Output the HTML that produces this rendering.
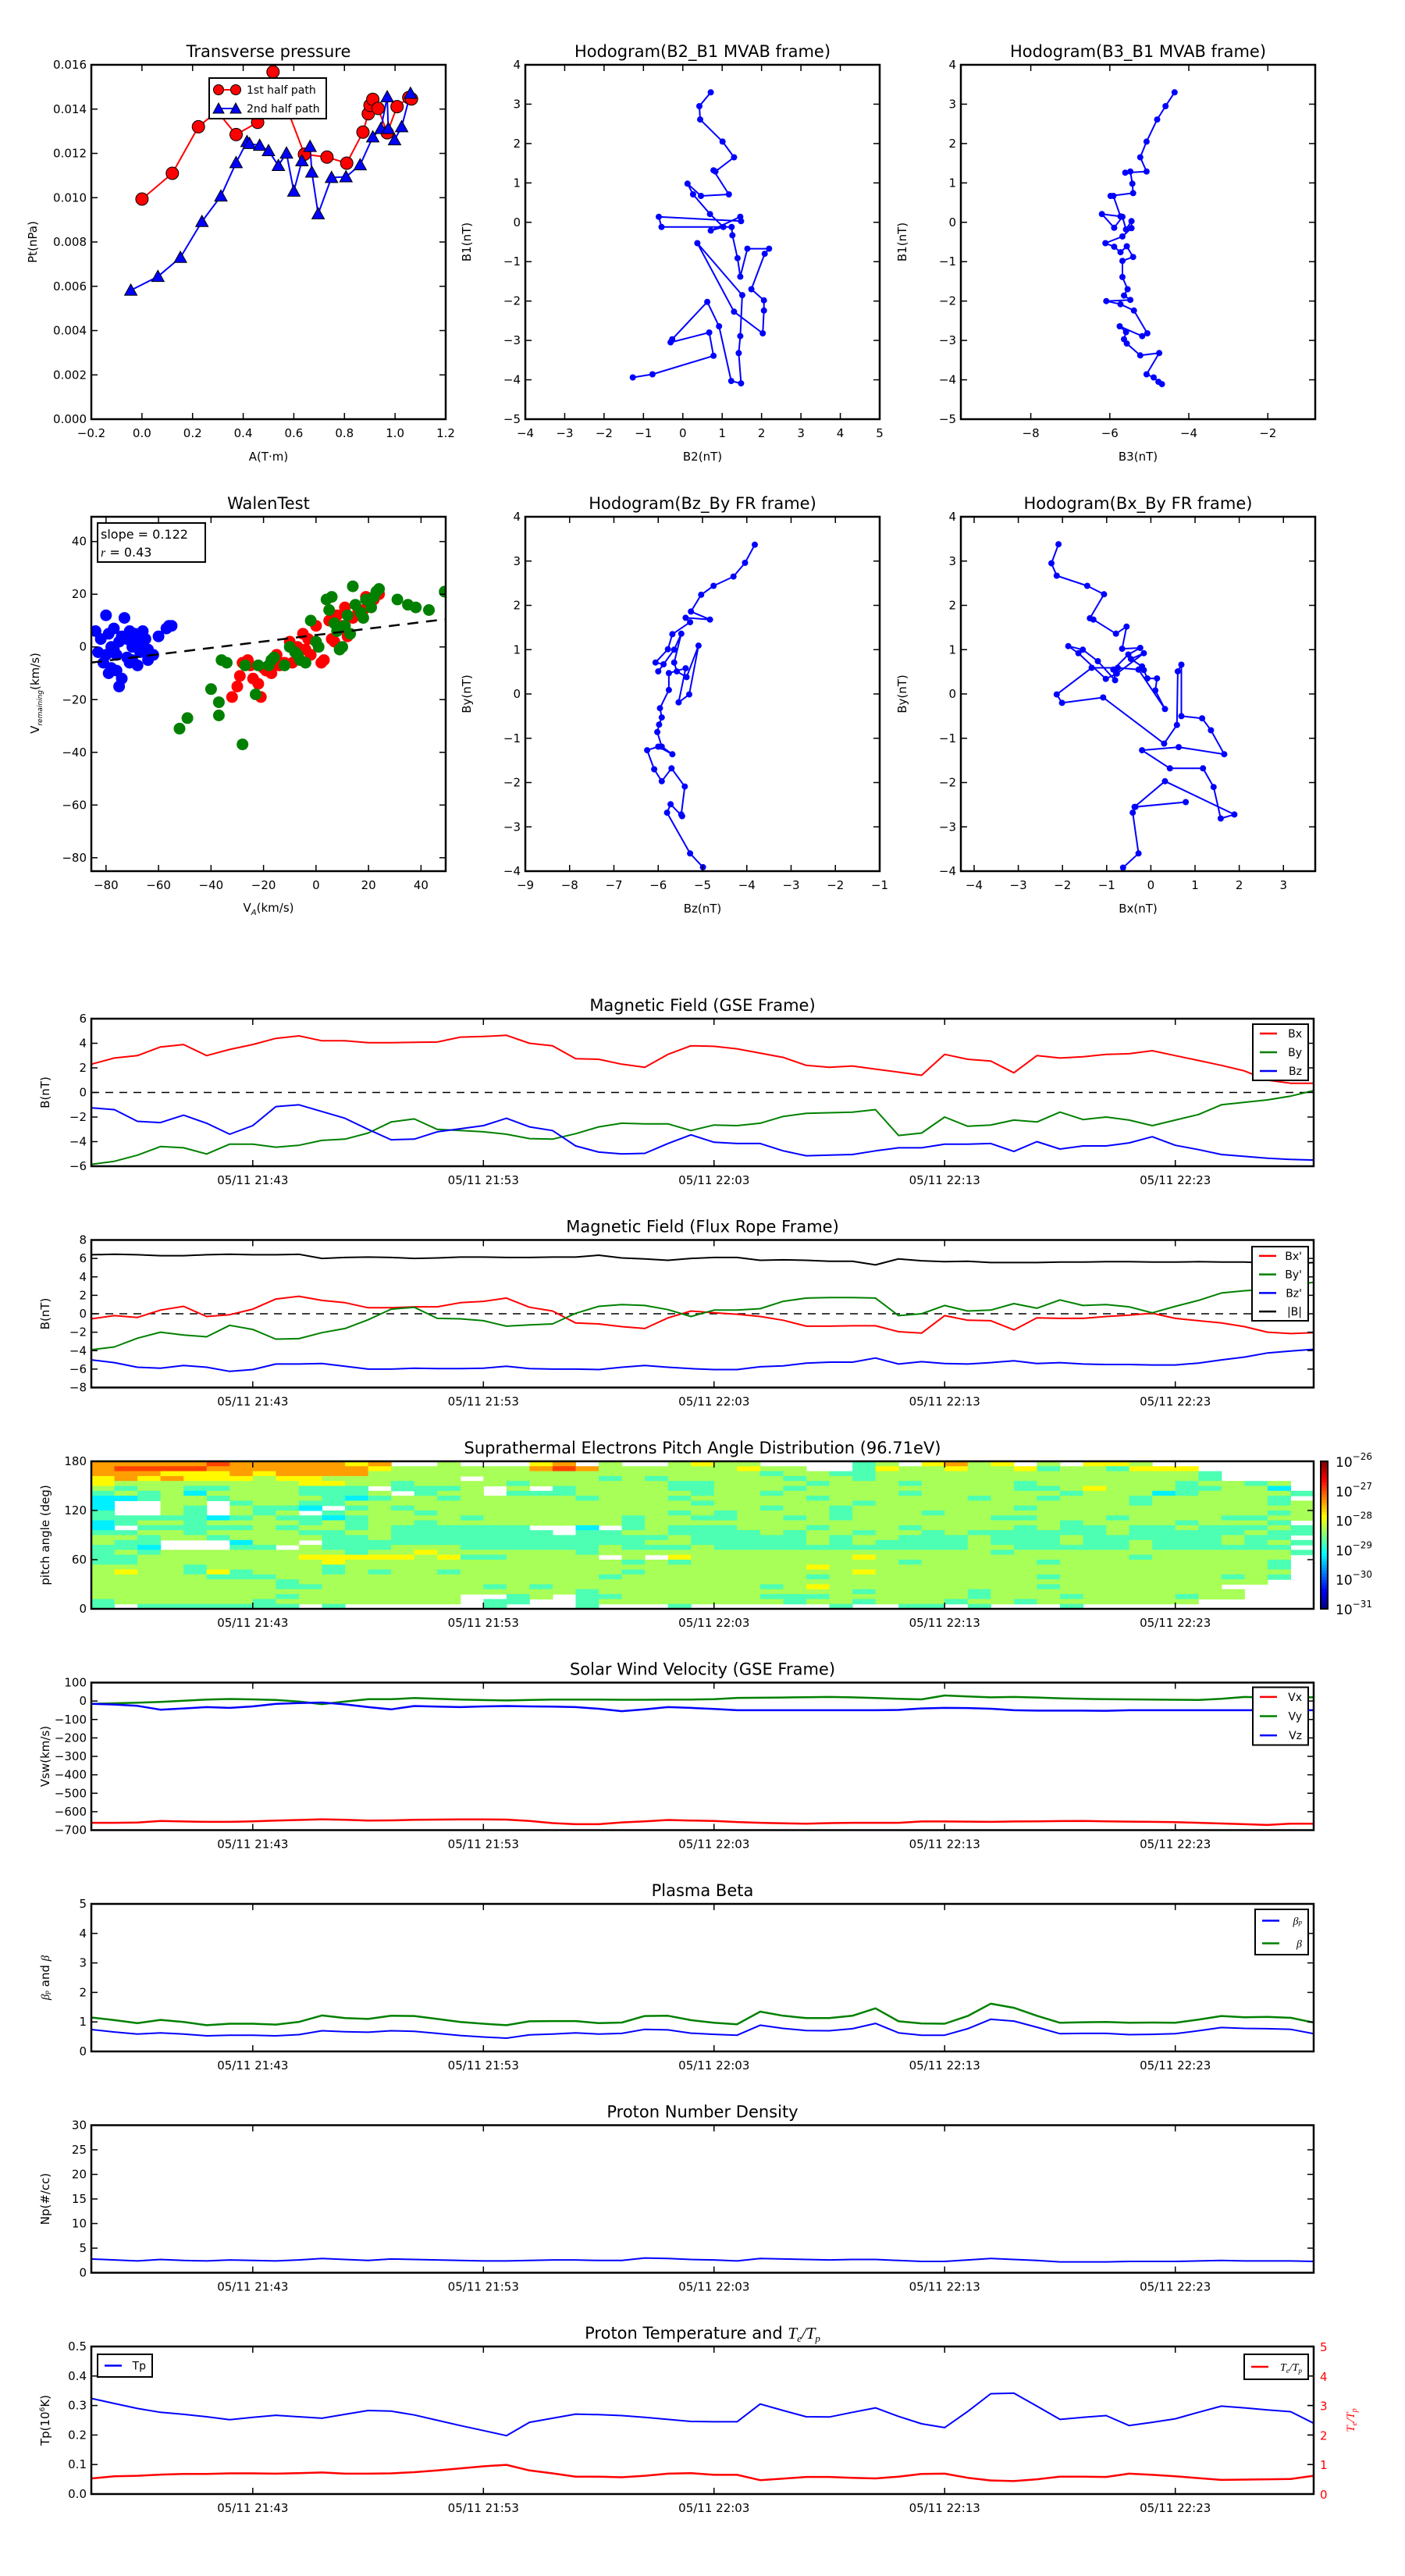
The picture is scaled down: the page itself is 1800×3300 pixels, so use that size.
<!DOCTYPE html>
<html><head><meta charset="utf-8"><title>Flux rope analysis</title>
<style>
html,body{margin:0;padding:0;background:#fff;}
svg{display:block;font-family:"DejaVu Sans","Liberation Sans",sans-serif;}
</style></head>
<body>
<svg id="chart" xmlns="http://www.w3.org/2000/svg" width="1800" height="3300" viewBox="0 0 1800 3300">
<rect x="0" y="0" width="1800" height="3300" fill="#fff"/>
</svg>
<script>
// ---------- time series data (1-min cadence, minutes since 21:36) ----------
const timeTicks = [7,17,27,37,47];
const timeTickLabels = ["05/11 21:43","05/11 21:53","05/11 22:03","05/11 22:13","05/11 22:23"];
const gseBx = [2.3,2.8,3.0,3.7,3.9,3.0,3.5,3.9,4.4,4.6,4.2,4.2,4.05,4.05,4.08,4.1,4.5,4.55,4.65,4.0,3.8,2.75,2.7,2.3,2.05,3.1,3.8,3.75,3.55,3.2,2.85,2.2,2.05,2.15,1.9,1.65,1.4,3.1,2.7,2.55,1.6,3.0,2.8,2.9,3.1,3.15,3.4,3.0,2.6,2.2,1.75,1.0,0.75,0.75];
const gseBy = [-5.85,-5.6,-5.1,-4.4,-4.5,-5.0,-4.2,-4.2,-4.45,-4.3,-3.9,-3.8,-3.3,-2.4,-2.15,-3.0,-3.1,-3.2,-3.4,-3.75,-3.8,-3.35,-2.8,-2.5,-2.55,-2.55,-3.1,-2.65,-2.7,-2.5,-1.95,-1.7,-1.65,-1.6,-1.4,-3.5,-3.3,-2.0,-2.75,-2.65,-2.25,-2.4,-1.6,-2.2,-2.0,-2.25,-2.7,-2.25,-1.8,-1.0,-0.8,-0.6,-0.3,0.15];
const gseBz = [-1.25,-1.4,-2.35,-2.45,-1.85,-2.5,-3.4,-2.7,-1.15,-1.0,-1.55,-2.1,-3.0,-3.85,-3.8,-3.2,-2.95,-2.7,-2.1,-2.8,-3.1,-4.35,-4.85,-5.0,-4.95,-4.15,-3.45,-4.05,-4.15,-4.15,-4.75,-5.15,-5.1,-5.05,-4.75,-4.5,-4.5,-4.2,-4.2,-4.15,-4.8,-4.0,-4.6,-4.35,-4.35,-4.1,-3.6,-4.3,-4.65,-5.05,-5.2,-5.35,-5.45,-5.5];
const frBx = [-0.55,-0.2,-0.4,0.4,0.8,-0.3,-0.1,0.5,1.6,1.9,1.45,1.2,0.65,0.65,0.75,0.75,1.2,1.35,1.7,0.7,0.3,-1.0,-1.1,-1.4,-1.6,-0.45,0.3,0.1,-0.05,-0.3,-0.7,-1.35,-1.35,-1.3,-1.3,-1.95,-2.1,-0.2,-0.7,-0.75,-1.75,-0.45,-0.5,-0.5,-0.3,-0.15,0.05,-0.5,-0.75,-1.0,-1.4,-2.0,-2.15,-2.05];
const frBy = [-3.9,-3.6,-2.65,-2.0,-2.3,-2.5,-1.25,-1.7,-2.75,-2.7,-2.05,-1.6,-0.65,0.5,0.7,-0.5,-0.55,-0.75,-1.35,-1.2,-1.1,0.05,0.8,1.0,0.9,0.45,-0.3,0.4,0.4,0.55,1.35,1.7,1.75,1.75,1.7,-0.2,0.0,0.9,0.3,0.4,1.1,0.6,1.5,0.9,1.0,0.75,0.1,0.8,1.45,2.25,2.5,2.65,3.1,3.4];
const frBz = [-5.0,-5.3,-5.8,-5.9,-5.6,-5.8,-6.25,-6.05,-5.45,-5.45,-5.4,-5.7,-6.0,-6.0,-5.9,-5.95,-5.95,-5.9,-5.7,-5.95,-6.0,-6.0,-6.05,-5.8,-5.6,-5.8,-5.95,-6.05,-6.05,-5.75,-5.65,-5.35,-5.25,-5.25,-4.8,-5.45,-5.2,-5.4,-5.45,-5.3,-5.1,-5.4,-5.3,-5.45,-5.5,-5.5,-5.55,-5.55,-5.35,-5.0,-4.7,-4.25,-4.05,-3.85];
const frBt = [6.4,6.45,6.4,6.3,6.3,6.4,6.45,6.4,6.4,6.45,6.0,6.1,6.15,6.1,6.0,6.05,6.15,6.15,6.1,6.1,6.15,6.15,6.35,6.05,5.95,5.8,6.0,6.1,6.1,5.8,5.85,5.8,5.7,5.7,5.3,5.95,5.75,5.65,5.7,5.55,5.55,5.55,5.6,5.6,5.65,5.65,5.6,5.6,5.65,5.6,5.6,5.5,5.4,5.55];
const swVx = [-660,-660,-659,-650,-653,-655,-655,-652,-648,-645,-641,-644,-648,-647,-644,-643,-642,-642,-643,-650,-662,-668,-668,-658,-652,-645,-648,-650,-656,-660,-663,-665,-662,-660,-660,-660,-653,-653,-654,-655,-653,-652,-651,-650,-652,-654,-655,-657,-660,-664,-668,-672,-665,-665];
const swVy = [-15,-12,-9,-5,2,8,11,9,6,-3,-17,-3,10,10,16,12,8,5,3,6,8,8,8,7,7,8,8,10,17,18,19,21,22,20,16,12,9,30,25,20,22,19,15,12,10,9,8,7,6,12,22,19,19,21];
const swVz = [-15,-19,-26,-47,-40,-33,-37,-29,-15,-11,-8,-18,-33,-45,-27,-30,-33,-29,-27,-29,-30,-33,-42,-55,-45,-33,-37,-43,-50,-50,-50,-50,-50,-50,-50,-48,-40,-37,-38,-42,-50,-52,-52,-52,-53,-50,-50,-50,-50,-50,-50,-50,-50,-50];
const betaP = [0.74,0.66,0.59,0.63,0.59,0.53,0.55,0.55,0.53,0.57,0.70,0.67,0.65,0.70,0.68,0.61,0.54,0.49,0.45,0.56,0.59,0.63,0.59,0.61,0.75,0.73,0.62,0.58,0.55,0.89,0.78,0.71,0.70,0.77,0.95,0.63,0.55,0.55,0.77,1.09,1.03,0.82,0.60,0.61,0.61,0.57,0.58,0.60,0.70,0.81,0.78,0.77,0.75,0.60];
const betaAll = [1.15,1.06,0.96,1.07,1.00,0.89,0.94,0.94,0.91,1.00,1.22,1.13,1.10,1.21,1.20,1.10,1.00,0.94,0.89,1.02,1.03,1.03,0.96,0.98,1.20,1.21,1.06,0.97,0.92,1.35,1.21,1.13,1.13,1.21,1.46,1.02,0.95,0.94,1.20,1.62,1.48,1.21,0.97,0.99,1.00,0.97,0.98,0.97,1.08,1.20,1.16,1.17,1.14,0.98];
const densNp = [2.8,2.6,2.4,2.7,2.5,2.4,2.6,2.5,2.4,2.6,2.9,2.7,2.5,2.8,2.7,2.6,2.5,2.4,2.4,2.5,2.6,2.6,2.5,2.5,3.0,2.9,2.7,2.6,2.4,2.9,2.8,2.7,2.6,2.7,2.7,2.5,2.3,2.3,2.6,2.9,2.7,2.5,2.2,2.2,2.2,2.3,2.3,2.3,2.4,2.5,2.4,2.4,2.4,2.3];
const tempTp = [0.324,0.307,0.29,0.277,0.27,0.262,0.252,0.26,0.267,0.262,0.257,0.27,0.283,0.281,0.268,0.25,0.232,0.215,0.198,0.243,0.257,0.271,0.269,0.266,0.26,0.253,0.246,0.245,0.245,0.305,0.283,0.262,0.261,0.277,0.292,0.263,0.238,0.225,0.28,0.34,0.342,0.298,0.253,0.26,0.266,0.232,0.243,0.255,0.277,0.298,0.292,0.285,0.279,0.24];
const tempRatio = [0.53,0.6,0.62,0.66,0.68,0.68,0.7,0.7,0.69,0.71,0.73,0.69,0.69,0.7,0.74,0.8,0.87,0.94,0.99,0.8,0.7,0.59,0.59,0.57,0.62,0.69,0.71,0.65,0.65,0.47,0.52,0.58,0.58,0.55,0.53,0.59,0.68,0.69,0.55,0.46,0.44,0.5,0.59,0.59,0.58,0.69,0.65,0.6,0.54,0.48,0.49,0.5,0.51,0.62];
// pitch angle levels: one string per 6-degree bin (top = 174-180), one char per minute; w = no data
const padRows = [
"7777787777767ww5www67w5ww5655wwww45w6756w5w665wwwwwww",
"7888877777776555555787555555655ww465565564554666wwwww",
"7776667677775555555555555555545544555555555555554wwww",
"6767666566555555w55555454555554554555555555555554wwww",
"6555555556655455554555555445555455545555455555545545w",
"545544555444w4445w5w45555445554555555555445655544553w",
"4545355554445w455w44455555455455555455555545553455554",
"3345545555434554555554555455555455555545545554555554",
"3ww55w455445555555555555554555555455555555555455555455",
"3ww54w5443w4545555555555555554554555555545555555555555",
"4ww54w545w4555455555555554545555455545555555555555545",
"44444345443455554555555455445545455555544555455554455",
"3455455554545545555555545555555555555555554555545554",
"3w44444545545444444ww3w4544455545554555545445445444544",
"44554555544554444444w44554444545545545444444544444544",
"5545545555445444444444444544444545544454445444444544",
"544www355w4444444444444455444445454444544454454445454",
"443www44w5444555444444544454444444444455444445444444",
"45455555555455655555545555555555555555545555555555554",
"4455555556666656445555w5w655555556555555555554555555",
"4455555555655555555555545455555555545555545555555554",
"5555455555455555555555555555555655555555555555555554",
"5655464555454554555555545555555556555555555555555555",
"5555544455555555555555455555555455555555545555555454",
"555555554555555555555555555555555555555555555555555w",
"5555555544555555545455555555545655555555545555555www",
"55555555555555555555545555555555545555455555555555www",
"5555555545555555ww45w44555555444555555455545555455www",
"4555555455555555w44ww455555555455455545545555555wwwww",
"4w4444444w4wwwwww4www4www4wwwwww4ww44w4www4wwwwwwwwww"
];
// ---------- scatter / hodogram data ----------
const ptRedA = [0,0.12,0.223,0.297,0.372,0.457,0.518,0.642,0.731,0.809,0.873,0.894,0.901,0.912,0.933,0.969,1.008,1.054,1.065];
const ptRedP = [0.00994,0.0111,0.0132,0.0139,0.01285,0.0134,0.01568,0.01196,0.01183,0.01156,0.01296,0.01379,0.01417,0.01444,0.01403,0.01293,0.01411,0.01452,0.01446];
const ptBlueA = [-0.044,0.063,0.152,0.237,0.312,0.372,0.415,0.425,0.465,0.50,0.539,0.571,0.600,0.632,0.664,0.671,0.696,0.749,0.806,0.862,0.912,0.944,0.969,0.973,0.998,1.026,1.061];
const ptBlueP = [0.00582,0.00644,0.0073,0.00892,0.01007,0.01158,0.01253,0.01244,0.01236,0.01212,0.01145,0.01201,0.01029,0.01166,0.01231,0.01115,0.00927,0.01091,0.01094,0.01148,0.01274,0.01312,0.01455,0.01312,0.01261,0.0132,0.01471];
const hodoB2 = [0.71,0.42,0.44,1.01,1.30,0.83,0.78,1.17,0.46,0.12,0.26,0.69,1.03,0.71,1.46,1.48,-0.61,-0.54,1.24,1.26,1.39,1.46,1.64,2.19,2.08,1.74,2.06,2.06,2.03,1.30,0.37,1.51,1.46,1.42,1.48,1.23,0.92,0.62,-0.27,-0.31,0.67,0.78,-0.77,-1.27];
const hodoB1a = [3.30,2.95,2.61,2.05,1.65,1.29,1.32,0.71,0.67,0.98,0.71,0.21,-0.12,-0.21,0.14,0.03,0.14,-0.12,-0.12,-0.33,-0.91,-1.38,-0.67,-0.67,-0.80,-1.70,-1.98,-2.24,-2.82,-2.27,-0.53,-1.85,-2.89,-3.32,-4.09,-4.03,-2.64,-2.02,-2.97,-3.05,-2.80,-3.39,-3.86,-3.94];
const hodoB3 = [-4.36,-4.59,-4.80,-5.07,-5.23,-5.07,-5.61,-5.48,-5.43,-5.41,-5.98,-5.91,-5.73,-6.20,-5.89,-5.68,-5.59,-5.45,-5.45,-5.68,-6.11,-5.89,-5.73,-5.57,-5.41,-5.68,-5.68,-5.55,-5.64,-5.48,-6.09,-5.73,-5.39,-5.05,-5.18,-5.75,-5.59,-5.64,-5.57,-5.23,-4.75,-5.07,-4.89,-4.77,-4.68];
const hodoB1b = [3.30,2.95,2.61,2.05,1.65,1.29,1.26,1.29,0.98,0.74,0.67,0.67,0.15,0.21,-0.14,0.14,-0.18,0.03,-0.15,-0.36,-0.53,-0.62,-0.76,-0.61,-0.88,-0.98,-1.39,-1.70,-1.86,-1.97,-2.00,-2.08,-2.24,-2.82,-2.89,-2.64,-2.79,-2.97,-3.08,-3.38,-3.32,-3.86,-3.94,-4.05,-4.11];
const hodoBz = [-3.82,-4.04,-4.30,-4.75,-5.03,-5.26,-4.83,-5.38,-5.28,-5.68,-5.78,-6.06,-5.88,-6.00,-5.64,-5.48,-5.64,-5.58,-5.36,-5.09,-5.30,-5.54,-5.38,-5.76,-5.76,-5.96,-5.92,-5.98,-6.02,-5.92,-5.68,-6.00,-6.25,-6.09,-5.92,-5.70,-5.40,-5.48,-5.46,-5.72,-5.80,-5.28,-4.99];
const hodoByA = [3.37,2.96,2.65,2.44,2.24,1.86,1.68,1.72,1.62,1.35,1.01,0.71,0.67,0.51,1.00,1.36,0.71,0.51,0.38,1.09,-0.01,-0.19,0.58,0.47,0.09,-0.32,-0.53,-0.69,-0.86,-1.19,-1.36,-1.19,-1.27,-1.70,-1.97,-1.68,-2.09,-2.72,-2.76,-2.49,-2.68,-3.60,-3.91];
const hodoBx = [-2.09,-2.25,-2.13,-1.44,-1.06,-1.38,-1.30,-0.79,-0.55,-0.65,-0.24,-0.51,-0.85,-0.81,-1.20,-1.54,-1.87,-1.64,-1.02,-0.77,-0.16,-0.45,-0.20,-0.16,-0.08,0.14,0.10,0.32,-0.28,-0.75,-1.34,-2.13,-2.01,-1.08,0.30,0.59,0.61,0.69,0.69,1.16,1.36,1.66,0.63,-0.20,0.43,1.18,1.42,1.58,1.89,0.32,-0.37,0.79,-0.35,-0.41,-0.28,-0.63];
const hodoByB = [3.38,2.95,2.67,2.44,2.25,1.71,1.68,1.36,1.52,1.02,1.04,0.89,0.55,0.31,0.74,1.00,1.08,0.92,0.34,0.46,0.92,0.79,0.62,0.54,0.35,0.35,0.08,-0.34,0.55,0.59,0.59,-0.01,-0.20,-0.08,-1.12,-0.70,0.51,0.66,-0.50,-0.55,-0.82,-1.36,-1.20,-1.27,-1.68,-1.68,-2.10,-2.81,-2.72,-1.97,-2.55,-2.44,-2.55,-2.68,-3.60,-3.92];
const walenBlueX = [-84,-83,-82,-81,-80,-80,-79,-79,-78,-78,-77,-77,-76,-76,-75,-75,-74,-74,-73,-72,-72,-71,-71,-70,-70,-69,-68,-68,-67,-66,-66,-65,-64,-64,-62,-60,-57,-56,-55];
const walenBlueY = [6,-2,3,-6,12,-3,-10,5,-8,0,7,-1,-3,-9,2,-15,4,-12,11,-4,3,-6,6,0,-5,5,-7,2,-2,6,0,3,-1,-5,-3,4,7,8,8];
const walenRedX = [-32,-30,-29,-28,-26,-25,-24,-22,-21,-20,-19,-18,-17,-16,-15,-14,-12,-10,-9,-7,-5,-4,-3,-2,0,2,3,5,6,7,8,10,11,12,14,16,18,19,22,24];
const walenRedY = [-19,-15,-11,-6,-5,-7,-12,-14,-19,-8,-9,-8,-10,-7,-3,-7,-6,2,-6,0,5,-1,3,-3,8,-6,-5,10,3,2,12,8,15,4,11,13,14,19,18,20];
const walenGreenX = [-52,-49,-40,-37,-37,-36,-34,-28,-27,-23,-22,-18,-17,-16,-12,-10,-8,-7,-6,-4,-2,0,1,4,5,6,7,8,9,10,11,12,13,14,15,17,18,19,21,22,23,24,31,35,38,43,49];
const walenGreenY = [-31,-27,-16,-21,-26,-5,-6,-37,-7,-18,-7,-7,-5,-4,-7,0,-2,-3,-5,-6,10,2,0,18,14,19,9,6,-1,0,8,12,5,23,16,13,11,18,15,19,21,22,18,16,15,14,21];
const walenSlope = 0.122;
const walenIntercept = 4.5;

// ---------- helpers ----------
const svg = document.getElementById('chart');
const NS = 'http://www.w3.org/2000/svg';
function mk(tag, parent){ const e = document.createElementNS(NS, tag); (parent||svg).appendChild(e); return e; }
function attrs(e, o){ for (const k in o) e.setAttribute(k, o[k]); return e; }
function fmt(v, d){ const s = v.toFixed(d); return s.replace('-', '\u2212'); }
function scale(d0, d1, r0, r1){ return v => r0 + (v - d0) * (r1 - r0) / (d1 - d0); }

function txt(parent, x, y, s, size, anchor, name, extra){
  const t = mk('text', parent);
  attrs(t, {x:x, y:y, 'font-size':size, 'text-anchor':anchor||'middle', fill:'#000'});
  if (extra) attrs(t, extra);
  t.textContent = s;
  
  
  return t;
}

function axes(g, x0, y0, w, h, xs, ys, xticks, xlabels, yticks, ylabels, name){
  const gt = mk('g', g);
  
  
  xticks.forEach((v, i) => {
    const x = xs(v);
    const a = mk('line', gt); attrs(a, {x1:x, x2:x, y1:y0+h, y2:y0+h-8, stroke:'#000', 'stroke-width':1.5});
    
    
    const b = mk('line', gt); attrs(b, {x1:x, x2:x, y1:y0, y2:y0+8, stroke:'#000', 'stroke-width':1.5});
    
    
    if (xlabels) txt(gt, x, y0+h+23, xlabels[i], 15, 'middle', 'x-tick-label');
  });
  yticks.forEach((v, i) => {
    const y = ys(v);
    const a = mk('line', gt); attrs(a, {x1:x0, x2:x0+8, y1:y, y2:y, stroke:'#000', 'stroke-width':1.5});
    
    
    const b = mk('line', gt); attrs(b, {x1:x0+w, x2:x0+w-8, y1:y, y2:y, stroke:'#000', 'stroke-width':1.5});
    
    
    if (ylabels) txt(gt, x0-6, y+5, ylabels[i], 15, 'end', 'y-tick-label');
  });
}
function frame(g, x0, y0, w, h, name){
  const r = mk('rect', g); attrs(r, {x:x0, y:y0, width:w, height:h, fill:'none', stroke:'#000', 'stroke-width':2.5});
  
  
}
function clip(id, x0, y0, w, h){
  const c = mk('clipPath'); c.setAttribute('id', id);
  const r = mk('rect', c); attrs(r, {x:x0, y:y0, width:w, height:h});
}
function polyline(g, xsArr, ysArr, xs, ys, color, width, name, dash){
  const p = mk('polyline', g);
  attrs(p, {points: xsArr.map((v,i)=> xs(v).toFixed(1)+','+ys(ysArr[i]).toFixed(1)).join(' '), fill:'none', stroke:color, 'stroke-width':width||2, 'stroke-linejoin':'round'});
  if (dash) p.setAttribute('stroke-dasharray', dash);
  
  
  return p;
}
function dots(g, xsArr, ysArr, xs, ys, color, r, name, stroke){
  xsArr.forEach((v, i) => {
    const c = mk('circle', g);
    attrs(c, {cx:xs(v).toFixed(1), cy:ys(ysArr[i]).toFixed(1), r:r, fill:color});
    if (stroke) attrs(c, {stroke:stroke, 'stroke-width':1});
    
    
  });
}
function tris(g, xsArr, ysArr, xs, ys, color, s, name){
  xsArr.forEach((v, i) => {
    const x = xs(v), y = ys(ysArr[i]);
    const p = mk('polygon', g);
    attrs(p, {points:`${x},${y-s} ${x-s},${y+s*0.8} ${x+s},${y+s*0.8}`, fill:color, stroke:'#000', 'stroke-width':1});
    
    
  });
}
function rangeTicks(a, b, step){ const out=[]; for (let v=a; v<=b+1e-9; v+=step) out.push(Math.round(v*1e6)/1e6); return out; }

// ---------- top scatter panels ----------
const TW = 454, TH = 454;
function scatterPanel(name, x0, y0, xr, yr, xt, xd, yt, yd, title, xlab, ylab, drawFn){
  const g = mk('g');  
  const xs = scale(xr[0], xr[1], x0, x0+TW), ys = scale(yr[0], yr[1], y0+TH, y0);
  clip(name+'-clip', x0, y0, TW, TH);
  const gd = mk('g', g); gd.setAttribute('clip-path', 'url(#'+name+'-clip)');
   
  drawFn(gd, xs, ys);
  axes(g, x0, y0, TW, TH, xs, ys, xt, xt.map(v=>fmt(v,xd)), yt, yt.map(v=>fmt(v,yd)), name);
  frame(g, x0, y0, TW, TH, name);
  txt(g, x0+TW/2, y0-10, title, 21, 'middle', name+'-title');
  if (xlab) txt(g, x0+TW/2, y0+TH+53, xlab, 15, 'middle', name+'-x-axis-title');
  if (ylab) txt(g, x0-70, y0+TH/2, ylab, 15, 'middle', name+'-y-axis-title', {transform:`rotate(-90 ${x0-70} ${y0+TH/2})`});
  return {g, xs, ys};
}

const p1 = scatterPanel('transverse-pressure', 117, 83, [-0.2,1.2], [0,0.016], rangeTicks(-0.2,1.2,0.2), 1, rangeTicks(0,0.016,0.002), 3,
  'Transverse pressure', 'A(T\u00b7m)', 'Pt(nPa)', (g, xs, ys) => {
    polyline(g, ptRedA, ptRedP, xs, ys, '#f00', 2, 'first-half-line');
    polyline(g, ptBlueA, ptBlueP, xs, ys, '#00f', 2, 'second-half-line');
    dots(g, ptRedA, ptRedP, xs, ys, '#f00', 8, 'first-half-point', '#000');
    tris(g, ptBlueA, ptBlueP, xs, ys, '#00f', 8, 'second-half-point');
  });
(function(){
  const lg = mk('g', p1.g);  
  const r = mk('rect', lg); attrs(r, {x:268, y:100, width:150, height:52, fill:'#fff', stroke:'#000', 'stroke-width':2});
   
  const l1 = mk('line', lg); attrs(l1, {x1:280, x2:302, y1:115, y2:115, stroke:'#f00', 'stroke-width':2});
   
  [280,302].forEach(x=>{ const c = mk('circle', lg); attrs(c,{cx:x, cy:115, r:6.5, fill:'#f00', stroke:'#000'});   });
  txt(lg, 316, 120, '1st half path', 14, 'start', 'legend-entry');
  const l2 = mk('line', lg); attrs(l2, {x1:280, x2:302, y1:139, y2:139, stroke:'#00f', 'stroke-width':2});
   
  [280,302].forEach(x=>{ const p = mk('polygon', lg); attrs(p,{points:`${x},${132} ${x-7},${145} ${x+7},${145}`, fill:'#00f', stroke:'#000'});   });
  txt(lg, 316, 144, '2nd half path', 14, 'start', 'legend-entry');
})();

function hodo(g, xa, ya, xs, ys, nm){ polyline(g, xa, ya, xs, ys, '#00f', 2, nm+'-path'); dots(g, xa, ya, xs, ys, '#00f', 4, nm+'-point'); }
scatterPanel('hodogram-b2-b1', 673, 83, [-4,5], [-5,4], rangeTicks(-4,5,1), 0, rangeTicks(-5,4,1), 0,
  'Hodogram(B2_B1 MVAB frame)', 'B2(nT)', 'B1(nT)', (g, xs, ys) => hodo(g, hodoB2, hodoB1a, xs, ys, 'b2-b1'));
scatterPanel('hodogram-b3-b1', 1231, 83, [-9.77,-0.8], [-5,4], [-8,-6,-4,-2], 0, rangeTicks(-5,4,1), 0,
  'Hodogram(B3_B1 MVAB frame)', 'B3(nT)', 'B1(nT)', (g, xs, ys) => hodo(g, hodoB3, hodoB1b, xs, ys, 'b3-b1'));
const p4 = scatterPanel('walen-test', 117, 662, [-85.6,49.4], [-85.1,49.4], rangeTicks(-80,40,20), 0, rangeTicks(-80,40,20), 0,
  'WalenTest', null, null, (g, xs, ys) => {
    dots(g, walenBlueX, walenBlueY, xs, ys, '#00f', 7.5, 'walen-blue-point');
    dots(g, walenRedX, walenRedY, xs, ys, '#f00', 7.5, 'walen-red-point');
    dots(g, walenGreenX, walenGreenY, xs, ys, '#008000', 7.5, 'walen-green-point');
    const fx = [-85.6, 49.4];
    polyline(g, fx, fx.map(v=>walenSlope*v+walenIntercept), xs, ys, '#000', 2.5, 'walen-fit-line', '14,10');
  });
(function(){
  const g = p4.g;
  const r = mk('rect', g); attrs(r, {x:125, y:670, width:138, height:50, fill:'#fff', stroke:'#000', 'stroke-width':2});
   
  txt(g, 129, 690, 'slope = 0.122', 16, 'start', 'slope-text');
  const t = txt(g, 129, 713, '', 16, 'start', 'r-text');
  t.innerHTML = '<tspan font-style="italic" font-family="Liberation Serif, serif">r</tspan> = 0.43';
  const xl = txt(g, 117+227, 662+453+53, '', 15, 'middle', 'walen-x-axis-title');
  xl.innerHTML = 'V<tspan font-size="10" dy="4" font-style="italic">A</tspan><tspan dy="-4">(km/s)</tspan>';
  const yl = txt(g, 50, 888, '', 15, 'middle', 'walen-y-axis-title', {transform:'rotate(-90 50 888)'});
  yl.innerHTML = 'V<tspan font-size="9" dy="4" font-style="italic">remaining</tspan><tspan dy="-4">(km/s)</tspan>';
})();
scatterPanel('hodogram-bz-by', 673, 662, [-9,-1], [-4,4], rangeTicks(-9,-1,1), 0, rangeTicks(-4,4,1), 0,
  'Hodogram(Bz_By FR frame)', 'Bz(nT)', 'By(nT)', (g, xs, ys) => hodo(g, hodoBz, hodoByA, xs, ys, 'bz-by'));
scatterPanel('hodogram-bx-by', 1231, 662, [-4.3,3.72], [-4,4], rangeTicks(-4,3,1), 0, rangeTicks(-4,4,1), 0,
  'Hodogram(Bx_By FR frame)', 'Bx(nT)', 'By(nT)', (g, xs, ys) => hodo(g, hodoBx, hodoByB, xs, ys, 'bx-by'));

// ---------- time series panels ----------
const BX0 = 117, BW = 1566, BH = 189;
const tMin = 0, tMax = 53;
const tIdx = gseBx.map((_, i) => i);
function tsPanel(name, top, yr, yt, yd, title, ylabHtml){
  const g = mk('g');  
  const xs = scale(tMin, tMax, BX0, BX0+BW), ys = scale(yr[0], yr[1], top+BH, top);
  clip(name+'-clip', BX0, top, BW, BH);
  const gd = mk('g', g); gd.setAttribute('clip-path', 'url(#'+name+'-clip)');
   
  txt(g, BX0+BW/2, top-10, title, 21, 'middle', name+'-title');
  const yl = txt(g, 63, top+BH/2, '', 15, 'middle', name+'-y-axis-title', {transform:`rotate(-90 63 ${top+BH/2})`});
  yl.innerHTML = ylabHtml;
  return {g, gd, xs, ys, top, finish(){
    axes(g, BX0, top, BW, BH, xs, ys, timeTicks, timeTickLabels, yt, yt.map(v=>fmt(v,yd)), name);
    frame(g, BX0, top, BW, BH, name);
  }};
}
function legend(g, x, y, w, h, entries, name){
  const lg = mk('g', g);  
  const r = mk('rect', lg); attrs(r, {x:x, y:y, width:w, height:h, fill:'#fff', stroke:'#000', 'stroke-width':2});
   
  const step = h / entries.length;
  entries.forEach((e, i) => {
    const cy = y + step*(i+0.5);
    const l = mk('line', lg); attrs(l, {x1:x+9, x2:x+31, y1:cy, y2:cy, stroke:e[1], 'stroke-width':2.5});
     
    const t = txt(lg, x+w-8, cy+5, '', 14, 'end', 'legend-entry');
    t.innerHTML = e[0];
  });
}
function zeroLine(P){ polyline(P.gd, [tMin,tMax], [0,0], P.xs, P.ys, '#000', 1.5, 'zero-line', '10,8'); }
const TOP = i => 1305 + 283.5*i;

// GSE field
let P = tsPanel('magnetic-field-gse', TOP(0), [-6,6], rangeTicks(-6,6,2), 0, 'Magnetic Field (GSE Frame)', 'B(nT)');
zeroLine(P);
polyline(P.gd, tIdx, gseBx, P.xs, P.ys, '#f00', 2, 'series-bx');
polyline(P.gd, tIdx, gseBy, P.xs, P.ys, '#008000', 2, 'series-by');
polyline(P.gd, tIdx, gseBz, P.xs, P.ys, '#00f', 2, 'series-bz');
P.finish();
legend(P.g, 1605, 1312, 71, 72, [['Bx','#f00'],['By','#008000'],['Bz','#00f']], 'gse-legend');

// Flux rope field
P = tsPanel('magnetic-field-flux-rope', TOP(1), [-8,8], rangeTicks(-8,8,2), 0, 'Magnetic Field (Flux Rope Frame)', 'B(nT)');
zeroLine(P);
polyline(P.gd, tIdx, frBx, P.xs, P.ys, '#f00', 2, 'series-bx-prime');
polyline(P.gd, tIdx, frBy, P.xs, P.ys, '#008000', 2, 'series-by-prime');
polyline(P.gd, tIdx, frBz, P.xs, P.ys, '#00f', 2, 'series-bz-prime');
polyline(P.gd, tIdx, frBt, P.xs, P.ys, '#000', 2, 'series-b-total');
P.finish();
legend(P.g, 1604, 1597, 72, 95, [["Bx'",'#f00'],["By'",'#008000'],["Bz'",'#00f'],['|B|','#000']], 'flux-rope-legend');

// PAD heatmap
function jet(v){
  const c = x => Math.max(0, Math.min(1, x));
  const r = c(1.5 - Math.abs(4*v-3)), g = c(1.5 - Math.abs(4*v-2)), b = c(1.5 - Math.abs(4*v-1));
  return `rgb(${Math.round(r*255)},${Math.round(g*255)},${Math.round(b*255)})`;
}
P = tsPanel('pitch-angle-distribution', TOP(2), [0,180], [0,60,120,180], 0, 'Suprathermal Electrons Pitch Angle Distribution (96.71eV)', 'pitch angle (deg)');
padRows.forEach((row, ri) => {
  const aHi = 180 - ri*6, aLo = aHi - 6;
  const s = row.padEnd(53, 'w').slice(0, 53);
  for (let ci = 0; ci < 53; ci++){
    const ch = s[ci];
    if (ch === 'w') continue;
    const x1 = P.xs(ci), x2 = P.xs(ci+1);
    const rc = mk('rect', P.gd);
    attrs(rc, {x:x1.toFixed(1), y:P.ys(aHi).toFixed(1), width:(x2-x1+0.6).toFixed(1), height:(P.ys(aLo)-P.ys(aHi)+0.6).toFixed(1), fill:jet(parseInt(ch)*0.09+0.09)});
    
    
  }
});
P.finish();
(function(){
  const g = mk('g');  
  const top = TOP(2), n = 50;
  for (let i = 0; i < n; i++){
    const r = mk('rect', g);
    attrs(r, {x:1692, y:(top + BH - (i+1)*BH/n).toFixed(2), width:9, height:(BH/n+0.5).toFixed(2), fill:jet((i+0.5)/n)});
    
    
  }
  const f = mk('rect', g); attrs(f, {x:1692, y:top, width:9, height:BH, fill:'none', stroke:'#000', 'stroke-width':2});
   
  const exps = [-31,-30,-29,-28,-27,-26];
  exps.forEach((e, i) => {
    const y = top + BH - i*BH/5;
    const t = txt(g, 1711, y+7, '', 17, 'start', 'colorbar-label');
    t.innerHTML = '10<tspan font-size="12" dy="-9">' + String(e).replace('-', '\u2212') + '</tspan>';
  });
})();

// Solar wind velocity
P = tsPanel('solar-wind-velocity', TOP(3), [-700,100], rangeTicks(-700,100,100), 0, 'Solar Wind Velocity (GSE Frame)', 'Vsw(km/s)');
polyline(P.gd, tIdx, swVx, P.xs, P.ys, '#f00', 2.5, 'series-vx');
polyline(P.gd, tIdx, swVy, P.xs, P.ys, '#008000', 2.5, 'series-vy');
polyline(P.gd, tIdx, swVz, P.xs, P.ys, '#00f', 2.5, 'series-vz');
P.finish();
legend(P.g, 1605, TOP(3)+6, 71, 74, [['Vx','#f00'],['Vy','#008000'],['Vz','#00f']], 'velocity-legend');

// Plasma beta
P = tsPanel('plasma-beta', TOP(4), [0,5], rangeTicks(0,5,1), 0, 'Plasma Beta', '<tspan font-style="italic" font-family="Liberation Serif, serif">\u03b2<tspan font-size="9">p</tspan></tspan> and <tspan font-style="italic" font-family="Liberation Serif, serif">\u03b2</tspan>');
polyline(P.gd, tIdx, betaP, P.xs, P.ys, '#00f', 2, 'series-beta-p');
polyline(P.gd, tIdx, betaAll, P.xs, P.ys, '#008000', 2.5, 'series-beta');
P.finish();
legend(P.g, 1608, TOP(4)+7, 68, 58, [['<tspan font-style="italic" font-family="Liberation Serif, serif">\u03b2<tspan font-size="9">p</tspan></tspan>','#00f'],['<tspan font-style="italic" font-family="Liberation Serif, serif">\u03b2</tspan>','#008000']], 'beta-legend');

// Proton density
P = tsPanel('proton-number-density', TOP(5), [0,30], rangeTicks(0,30,5), 0, 'Proton Number Density', 'Np(#/cc)');
polyline(P.gd, tIdx, densNp, P.xs, P.ys, '#00f', 2, 'series-np');
P.finish();

// Temperature
P = tsPanel('proton-temperature', TOP(6), [0,0.5], rangeTicks(0,0.5,0.1), 1, '', 'Tp(10<tspan font-size="9" dy="-6">6</tspan><tspan dy="6">K)</tspan>');
(function(){
  const t = txt(P.g, BX0+BW/2, TOP(6)-10, '', 21, 'middle', 'proton-temperature-title');
  t.innerHTML = 'Proton Temperature and <tspan font-style="italic" font-family="Liberation Serif, serif">T<tspan font-size="13" dy="4">e</tspan><tspan dy="-4">/T</tspan><tspan font-size="13" dy="4">p</tspan></tspan>';
})();
polyline(P.gd, tIdx, tempTp, P.xs, P.ys, '#00f', 2, 'series-tp');
const ys2 = scale(0, 5, TOP(6)+BH, TOP(6));
polyline(P.gd, tIdx, tempRatio, P.xs, ys2, '#f00', 2.5, 'series-te-tp');
P.finish();
(function(){
  const g = mk('g', P.g);  
  const rt = [0,1,2,3,4,5];
  rt.forEach(v => {
    const y = ys2(v);
    const l = mk('line', g); attrs(l, {x1:BX0+BW, x2:BX0+BW-8, y1:y, y2:y, stroke:'#000', 'stroke-width':1.5});
     
    txt(g, BX0+BW+8, y+6, String(v), 15, 'start', 'right-tick-label', {fill:'#f00'});
  });
  const yl = txt(g, 1735, TOP(6)+BH/2, '', 15, 'middle', 'right-axis-title', {fill:'#f00', transform:`rotate(-90 1735 ${TOP(6)+BH/2})`, 'font-style':'italic', 'font-family':'Liberation Serif, serif'});
  yl.innerHTML = 'T<tspan font-size="10" dy="3">e</tspan><tspan dy="-3">/T</tspan><tspan font-size="10" dy="3">p</tspan>';
})();
legend(P.g, 125, TOP(6)+10, 70, 29, [['Tp','#00f']], 'tp-legend');
legend(P.g, 1594, TOP(6)+10, 82, 32, [['<tspan font-style="italic" font-family="Liberation Serif, serif">T<tspan font-size="9" dy="3">e</tspan><tspan dy="-3">/T</tspan><tspan font-size="9" dy="3">p</tspan></tspan>','#f00']], 'te-tp-legend');
</script>
</body></html>
